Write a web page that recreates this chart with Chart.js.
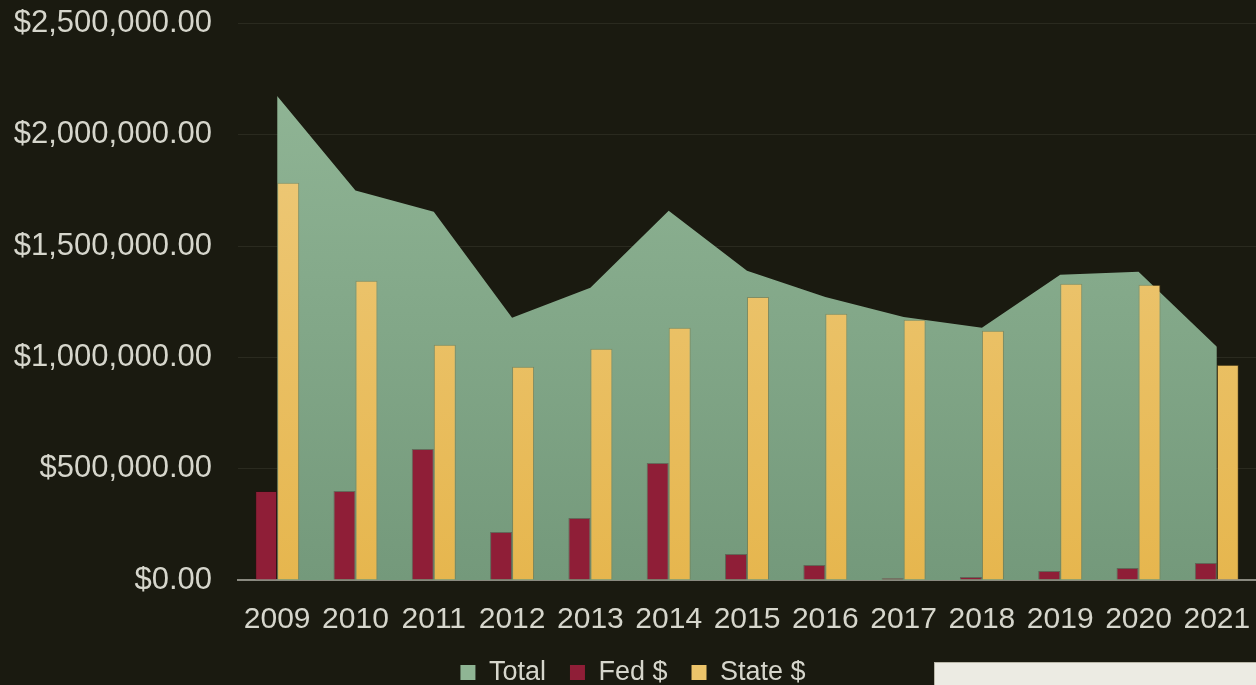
<!DOCTYPE html>
<html>
<head>
<meta charset="utf-8">
<script src="https://cdn.jsdelivr.net/npm/chart.js@4.4.1/dist/chart.umd.min.js"></script>
<style>
  html, body { margin: 0; padding: 0; background: #1a1a10; }
  #wrap { position: relative; width: 1256px; height: 685px; }
  #note { position: absolute; left: 934px; top: 662px; width: 322px; height: 23px;
          background: #ecebe3; border-left: 1px solid #b8b6a8; border-top: 1px solid #b8b6a8; box-sizing: border-box; }
</style>
</head>
<body>
<div id="wrap">
  <canvas id="c" width="1256" height="685"></canvas>
  <div id="note"></div>
</div>
<script>
const years = ['2009','2010','2011','2012','2013','2014','2015','2016','2017','2018','2019','2020','2021'];
const totalValues = [2175000, 1750000, 1655000, 1178000, 1313000, 1659000, 1389000, 1272000, 1182000, 1133000, 1371000, 1385000, 1048000];
const fedValues   = [400000, 400000, 589000, 216000, 279000, 526000, 117000, 67000, 8000, 13000, 40000, 54000, 76000];
const stateValues = [1785000, 1345000, 1057000, 958000, 1039000, 1133000, 1272000, 1196000, 1169000, 1120000, 1331000, 1327000, 967000];
const seriesNames = ['Total', 'Fed $', 'State $'];
const yTickMax = 2500000;
const yTickStep = 500000;

const textColor = '#d6d6cc';
const fontFamily = '"Liberation Sans", Arial, sans-serif';

function vGrad(ctx, area, top, bottom) {
  const g = ctx.createLinearGradient(0, area.top, 0, area.bottom);
  g.addColorStop(0, top);
  g.addColorStop(1, bottom);
  return g;
}

const bgPlugin = {
  id: 'bg',
  beforeDraw(chart) {
    const ctx = chart.ctx;
    ctx.save();
    ctx.fillStyle = '#1a1a10';
    ctx.fillRect(0, 0, chart.width, chart.height);
    ctx.restore();
  }
};

new Chart(document.getElementById('c'), {
  type: 'bar',
  data: {
    labels: years,
    datasets: [
      {
        type: 'line',
        label: seriesNames[0],
        data: totalValues,
        fill: 'origin',
        tension: 0,
        pointRadius: 0,
        pointHoverRadius: 0,
        pointBorderWidth: 0,
        pointHitRadius: 0,
        borderWidth: 0,
        borderColor: 'rgba(0,0,0,0)',
        backgroundColor: (c) => {
          const a = c.chart.chartArea;
          if (!a) return '#85aa8a';
          return vGrad(c.chart.ctx, a, '#93b898', '#74997b');
        },
        order: 3
      },
      {
        label: seriesNames[1],
        data: fedValues,
        backgroundColor: '#8f1e37',
        borderColor: 'rgba(60,10,20,0.35)',
        borderWidth: 1,
        borderSkipped: 'bottom',
        categoryPercentage: 0.562,
        barPercentage: 1.0,
        order: 1
      },
      {
        label: seriesNames[2],
        data: stateValues,
        backgroundColor: (c) => {
          const a = c.chart.chartArea;
          if (!a) return '#e9bf5f';
          return vGrad(c.chart.ctx, a, '#efcd82', '#e6b64e');
        },
        borderColor: 'rgba(120,90,30,0.35)',
        borderWidth: 1,
        borderSkipped: 'bottom',
        categoryPercentage: 0.562,
        barPercentage: 1.0,
        order: 2
      }
    ]
  },
  options: {
    responsive: false,
    animation: false,
    layout: { padding: { left: 10, right: 0, top: 0, bottom: -11 } },
    plugins: {
      tooltip: { enabled: false },
      legend: {
        position: 'bottom',
        labels: {
          color: textColor,
          font: { family: fontFamily, size: 27 },
          boxWidth: 15,
          boxHeight: 15,
          padding: 24,
          generateLabels: (chart) => {
            const fills = ['#8fb594', '#8f1e37', '#ecc46a'];
            return chart.data.datasets.map((ds, i) => ({
              text: ds.label,
              fillStyle: fills[i],
              strokeStyle: fills[i],
              lineWidth: 0,
              hidden: false,
              datasetIndex: i,
              fontColor: textColor
            }));
          }
        }
      }
    },
    scales: {
      x: {
        offset: true,
        grid: { display: true, drawOnChartArea: false, drawTicks: true, tickLength: 22, tickColor: 'rgba(0,0,0,0)' },
        border: { display: true, color: '#8a8a80', width: 2 },
        ticks: {
          color: textColor,
          font: { family: fontFamily, size: 30 },
          padding: 0,
          autoSkip: false,
          maxRotation: 0
        },
        afterFit: (s) => { s.height = 55; }
      },
      y: {
        min: 0,
        max: yTickMax,
        grid: { color: '#2a2a1f', lineWidth: 1, drawTicks: true, tickLength: 21, tickColor: 'rgba(0,0,0,0)' },
        border: { display: false },
        ticks: {
          stepSize: yTickStep,
          color: textColor,
          font: { family: fontFamily, size: 31 },
          padding: 5,
          callback: (v) => '$' + Number(v).toLocaleString('en-US', { minimumFractionDigits: 2, maximumFractionDigits: 2 })
        },
        afterFit: (s) => { s.width = 228; }
      }
    }
  },
  plugins: [bgPlugin]
});
</script>
</body>
</html>
